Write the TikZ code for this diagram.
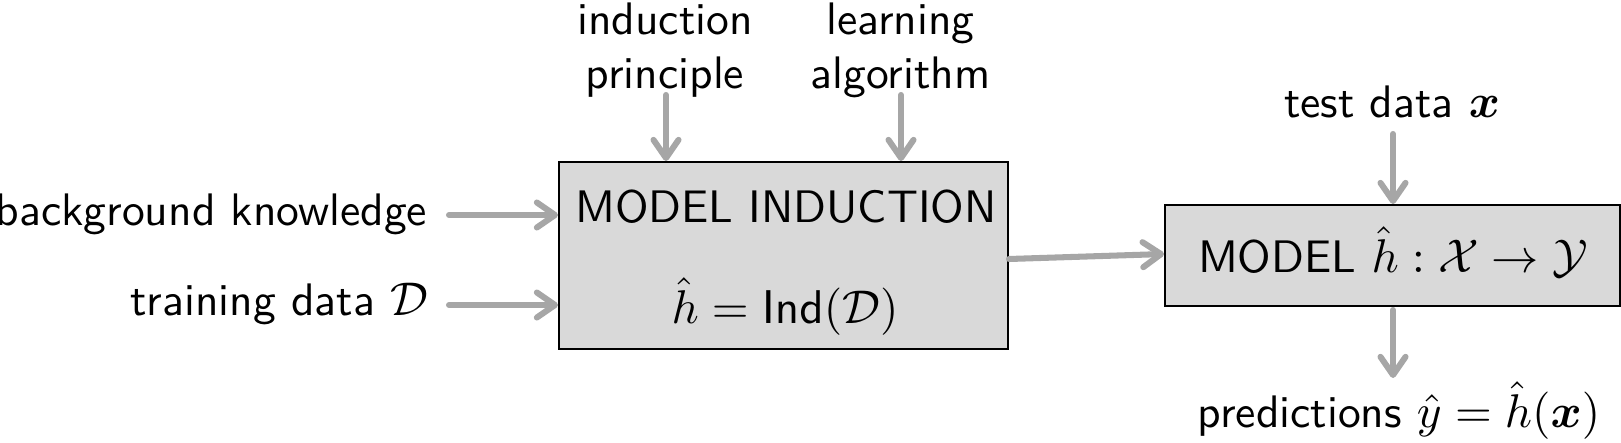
\documentclass[tikz,border=0pt]{standalone}
\usepackage{amsmath,bm}
\usetikzlibrary{arrows.meta,calc}
\begin{document}
\begin{tikzpicture}[x=0.23148pt,y=-0.23148pt,
  font=\sffamily\fontsize{10.55pt}{12.5pt}\selectfont,
  arr/.style={draw=gray!70, line width=1.4pt, line cap=round,
    -{Straight Barb[length=4.2pt,width=5.8pt,round]}},
  box/.style={draw=black, line width=0.45pt, fill=gray!30, inner sep=0pt},
  txt/.style={inner sep=0pt, outer sep=0pt},
  lbl/.style={inner sep=0pt, outer sep=0pt, align=center}
]
\useasboundingbox (0,0) rectangle (1621,442);

% boxes
\node[box, minimum width=103.94pt, minimum height=43.29pt] (ind) at (783.5,255.5) {};
\node[box, minimum width=105.32pt, minimum height=23.38pt] (mod) at (1392.5,255.5) {};

% texts inside boxes
\node[txt, anchor=base] (indt) at (786,222) {MODEL INDUCTION};
\node[txt, anchor=base] (indf) at (785,323) {$\hat{h} = \mathsf{Ind}(\mathcal{D})$};
\node[txt, anchor=base] (modt) at (1393,272) {MODEL $\hat{h}: \mathcal{X} \to \mathcal{Y}$};

% outside labels
\node[lbl, anchor=base] (ip) at (665,88) {induction\\principle};
\node[lbl, anchor=base] (la) at (900.5,88) {learning\\algorithm};
\node[txt, anchor=base east] (bk) at (427,225) {background knowledge};
\node[txt, anchor=base east] (td) at (428,315) {training data $\mathcal{D}$};
\node[txt, anchor=base] (tx) at (1392,118) {test data $\bm{x}$};
\node[txt, anchor=base] (pr) at (1399,427) {predictions $\hat{y} = \hat{h}(\bm{x})$};

% free ends
\coordinate (ipS) at (666,95);
\coordinate (laS) at (901,95);
\coordinate (bkS) at (449,215);
\coordinate (tdS) at (449,305);
\coordinate (txS) at (1393,134);
\coordinate (prE) at (1393,378);

% connectors
\draw[arr] (ipS) -- (ipS |- ind.north);
\draw[arr] (laS) -- (laS |- ind.north);
\draw[arr] (bkS) -- (bkS -| ind.west);
\draw[arr] (tdS) -- (tdS -| ind.west);
\draw[arr] ($(ind.east)+(0,3.5)$) -- ($(mod.west)+(0,-1.5)$);
\draw[arr] (txS) -- (txS |- mod.north);
\draw[arr] ($(prE |- mod.south)+(0,3)$) -- (prE);
\end{tikzpicture}
\end{document}
